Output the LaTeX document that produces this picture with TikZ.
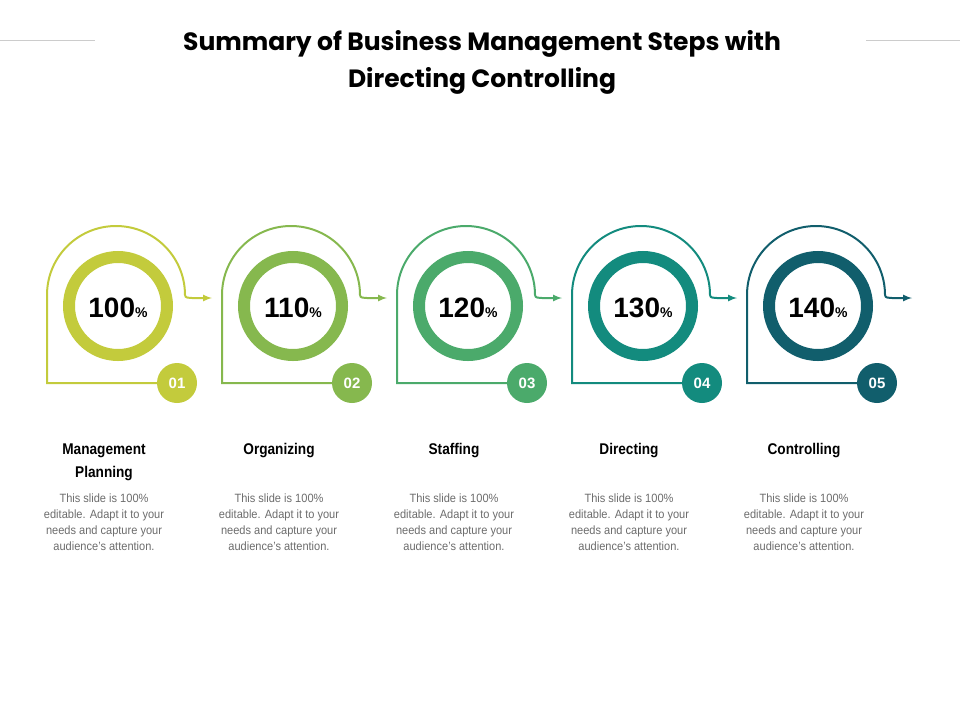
\documentclass[tikz,border=0pt]{standalone}
\usepackage{fontspec}
\setmainfont{Liberation Sans}
\newfontfamily\titlefont{Poppins}
\begin{document}
\begin{tikzpicture}[x=1pt,y=-1pt,
  pathline/.style={line width=2pt},
  ring/.style={line width=12pt},
  badge/.style={circle,minimum size=40pt,inner sep=0pt,text=white,font=\bfseries\fontsize{15}{15}\selectfont},
  pct/.style={font=\bfseries\fontsize{28}{28}\selectfont},
  lbl/.style={font=\bfseries\fontsize{15.5}{23}\selectfont,align=center,anchor=north,xscale=0.88},
  body/.style={font=\fontsize{12}{16}\selectfont,text=gray!85!black,align=center,anchor=north,xscale=0.92}]
\useasboundingbox (0,0) rectangle (960,720);
\node[font=\titlefont\bfseries\fontsize{25}{37}\selectfont,align=center] (title) at (482,62) {Summary of Business Management Steps with\\Directing Controlling};
\coordinate (l1) at (0,40); \coordinate (l2) at (95,40);
\coordinate (r1) at (866,40); \coordinate (r2) at (960,40);
\draw[gray!40] (l1)--(l2) (r1)--(r2);
\definecolor{c1}{HTML}{C3CB3C}
\definecolor{c2}{HTML}{86B84E}
\definecolor{c3}{HTML}{4BAA6B}
\definecolor{c4}{HTML}{138B7E}
\definecolor{c5}{HTML}{115E6C}
\foreach \i/\c/\p/\n/\l in {0/c1/100/01/{Management\\Planning},1/c2/110/02/Organizing,2/c3/120/03/Staffing,3/c4/130/04/Directing,4/c5/140/05/Controlling}{
  \begin{scope}[xshift=\i*175]
  \coordinate (s\i) at (185,295);
  \coordinate (e\i) at (212,298);
  \draw[pathline,\c] (s\i) arc[start angle=0,end angle=-180,radius=69] -- (47,383) -- (160,383);
  \draw[pathline,\c,-latex] (s\i) to[out=-90,in=180] (192,298) -- (e\i);
  \draw[ring,\c] (118,306) circle[radius=49];
  \node[pct] (p\i) at (118,308) {\p\fontsize{14}{14}\selectfont\%};
  \node[badge,fill=\c] (b\i) at (177,383) {\n};
  \node[lbl] (t\i) at (104,440) {\l};
  \node[body] (d\i) at (104,490) {This slide is 100\%\\editable. Adapt it to your\\needs and capture your\\audience's attention.};
  \end{scope}
}
\end{tikzpicture}
\end{document}
